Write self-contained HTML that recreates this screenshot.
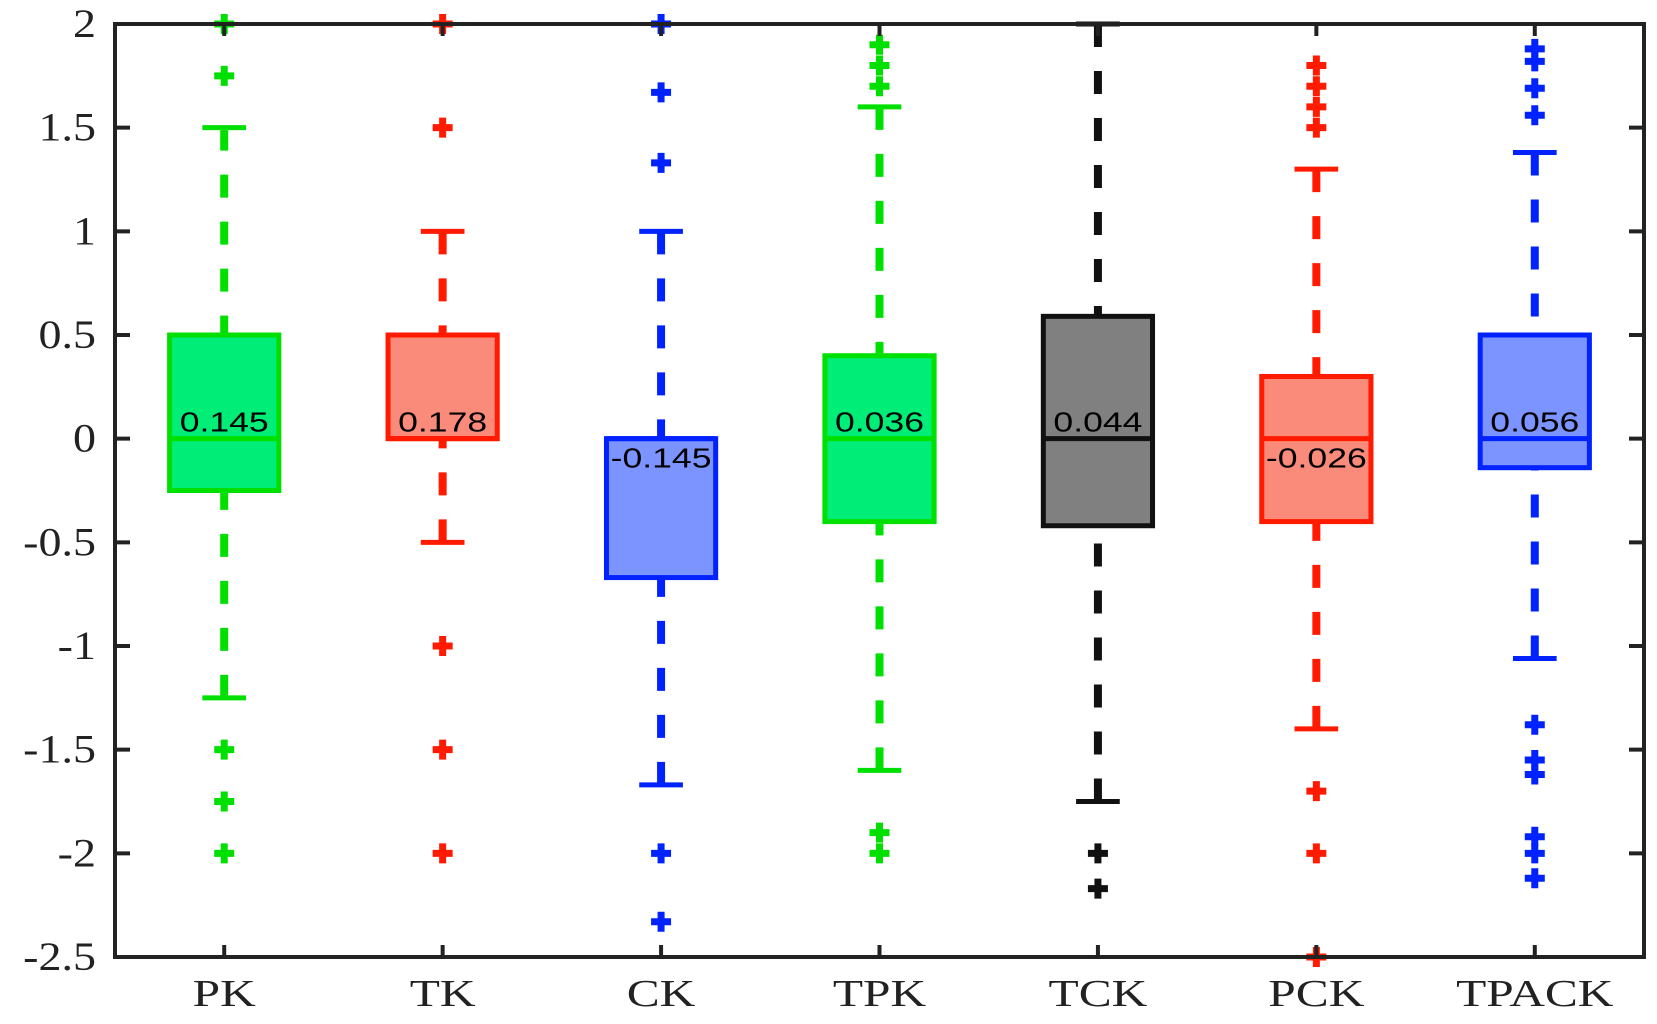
<!DOCTYPE html>
<html><head><meta charset="utf-8"><style>
body{margin:0;background:#fff}
svg{display:block}
</style></head><body>
<svg id="chart" width="1657" height="1024" xmlns="http://www.w3.org/2000/svg"></svg>
<script>
const categories = ["PK","TK","CK","TPK","TCK","PCK","TPACK"];
const q1 = [-0.25, 0, -0.67, -0.4, -0.42, -0.4, -0.14];
const medians = [0, 0, 0, 0, 0, 0, 0];
const q3 = [0.5, 0.5, 0, 0.4, 0.59, 0.3, 0.5];
const whiskerLow = [-1.25, -0.5, -1.67, -1.6, -1.75, -1.4, -1.06];
const whiskerHigh = [1.5, 1, 1, 1.6, 2, 1.3, 1.38];
const outliers = [
  [2, 1.75, -1.5, -1.75, -2],
  [2, 1.5, -1, -1.5, -2],
  [2, 1.67, 1.33, -2, -2.33],
  [1.9, 1.8, 1.7, -1.9, -2],
  [-2, -2.17],
  [1.8, 1.7, 1.6, 1.5, -1.7, -2, -2.5],
  [1.88, 1.82, 1.69, 1.56, -1.38, -1.55, -1.62, -1.92, -2.0, -2.12]
];
const meanLabels = ["0.145","0.178","-0.145","0.036","0.044","-0.026","0.056"];
const yTicks = [2,1.5,1,0.5,0,-0.5,-1,-1.5,-2,-2.5];
const yTickLabels = ["2","1.5","1","0.5","0","-0.5","-1","-1.5","-2","-2.5"];

const edgeColors = ["#00e000","#ff1a00","#0022ff","#00e000","#111111","#ff1a00","#0022ff"];
const fillColors = ["#00ee77","#fa8a7a","#7b94ff","#00ee77","#808080","#fa8a7a","#7b94ff"];

const L=115,R=1644,T=24,B=957;
const xMin=0.5,xMax=7.5,yMin=-2.5,yMax=2;
const xs=v=>L+(v-xMin)/(xMax-xMin)*(R-L);
const ys=v=>B-(v-yMin)/(yMax-yMin)*(B-T);
const svg=document.getElementById('chart');
const NS="http://www.w3.org/2000/svg";
function mk(tag,attrs,parent){const e=document.createElementNS(NS,tag);for(const k in attrs)e.setAttribute(k,attrs[k]);(parent||svg).appendChild(e);return e;}
function stretch(el,x,y,sx){el.setAttribute('transform',`translate(${x},${y}) scale(${sx},1) translate(${-x},${-y})`);}

const unit=(R-L)/(xMax-xMin);
categories.forEach((c,i)=>{
  const g=mk('g',{});
  
  
  const cx=xs(i+1), bw=unit*0.5, cw=unit*0.2;
  const col=edgeColors[i];
  const w1=mk('line',{x1:cx,x2:cx,y1:ys(whiskerHigh[i]),y2:ys(q3[i]),stroke:col,'stroke-width':8,'stroke-dasharray':'23 24'},g);
  
  
  const w2=mk('line',{x1:cx,x2:cx,y1:ys(whiskerLow[i]),y2:ys(q1[i]),stroke:col,'stroke-width':8,'stroke-dasharray':'23 24'},g);
  
  
  [whiskerHigh[i],whiskerLow[i]].forEach(v=>{
    const cap=mk('line',{x1:cx-cw/2,x2:cx+cw/2,y1:ys(v),y2:ys(v),stroke:col,'stroke-width':5},g);
    
    
  });
  const top=ys(q3[i]),bot=ys(q1[i]);
  const rect=mk('rect',{x:cx-bw/2,y:top,width:bw,height:Math.max(bot-top,0.1),fill:fillColors[i],stroke:col,'stroke-width':5},g);
  
  
  const med=mk('line',{x1:cx-bw/2,x2:cx+bw/2,y1:ys(medians[i]),y2:ys(medians[i]),stroke:col,'stroke-width':5},g);
  
  
  outliers[i].forEach(v=>{
    const p=mk('path',{d:`M${cx-10},${ys(v)}h20M${cx},${ys(v)-10}v20`,stroke:col,'stroke-width':7},g);
    
    
  });
  const neg=meanLabels[i].startsWith('-');
  const ty=ys(medians[i])+(neg?29:-7);
  const t=mk('text',{x:cx,y:ty,'text-anchor':'middle','font-family':'Liberation Sans, sans-serif','font-size':28,fill:'#000'},g);
  t.textContent=meanLabels[i];
  stretch(t,cx,ty,1.27);
  
  
  const tk=mk('path',{d:`M${cx},${B}v-12M${cx},${T}v12`,stroke:'#222','stroke-width':4});
  
  
  const xl=mk('text',{x:cx,y:1006,'text-anchor':'middle','font-family':'Liberation Serif, serif','font-size':38,fill:'#222'});
  xl.textContent=c;
  stretch(xl,cx,1006,1.3);
  
  
});
yTicks.forEach((v,i)=>{
  const tk=mk('path',{d:`M${L},${ys(v)}h15M${R},${ys(v)}h-15`,stroke:'#222','stroke-width':4});
  
  
  const yl=mk('text',{x:96,y:ys(v)+13,'text-anchor':'end','font-family':'Liberation Serif, serif','font-size':40,fill:'#222'});
  yl.textContent=yTickLabels[i];
  stretch(yl,96,ys(v)+13,1.15);
  
  
});
const ax=mk('rect',{x:L,y:T,width:R-L,height:B-T,fill:'none',stroke:'#222','stroke-width':4});


</script>
</body></html>
